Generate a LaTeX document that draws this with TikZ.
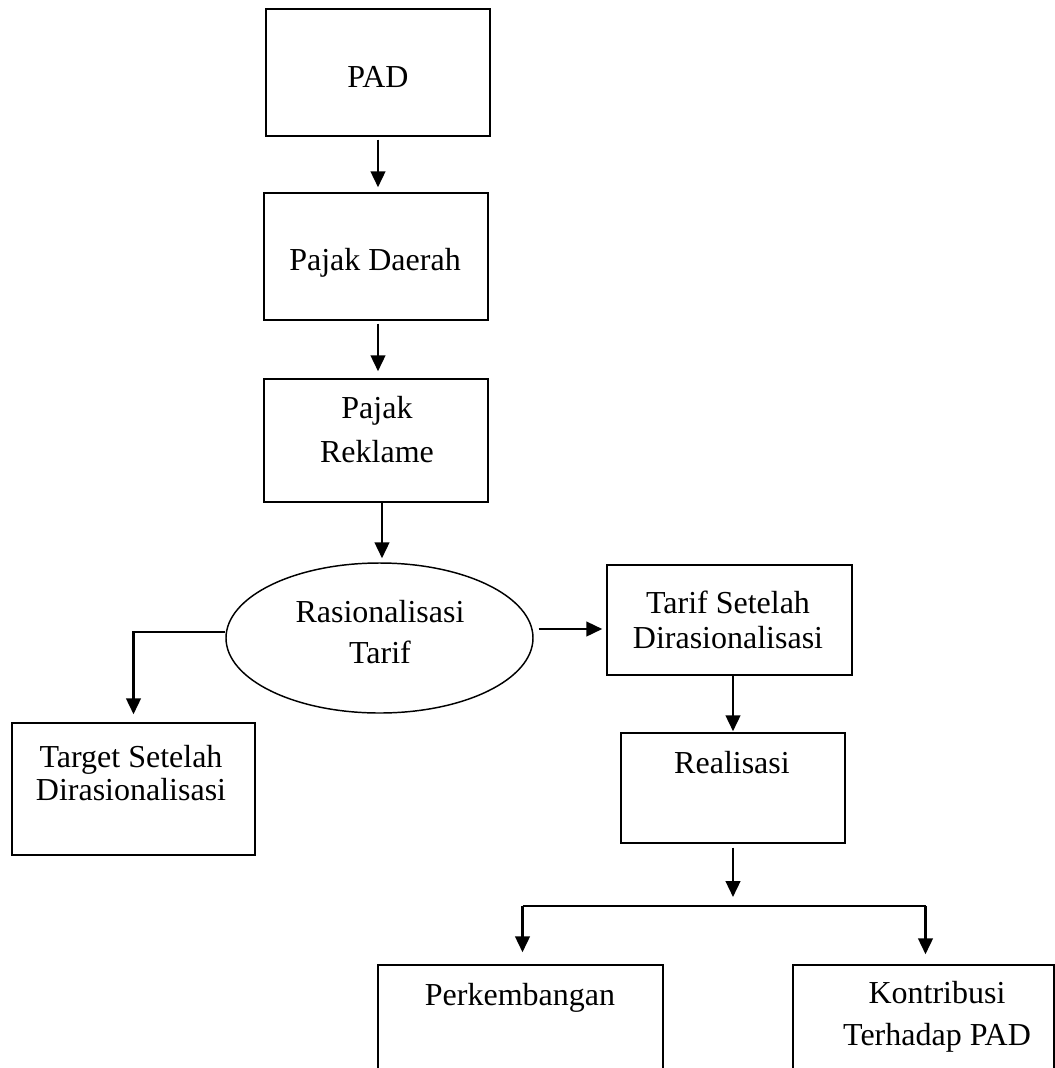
\documentclass[tikz,border=0pt]{standalone}
\usepackage{fontspec}
\setmainfont{Liberation Serif}
\usetikzlibrary{arrows.meta,shapes.geometric}

\tikzset{
  kotak/.style={draw, line width=1.1pt, inner sep=0pt, rectangle},
  oval/.style={draw, line width=1.1pt, inner sep=0pt, ellipse},
  teks/.style={anchor=base, inner sep=0pt, font=\fontsize{24}{28}\selectfont},
  panah/.style={line width=1.8pt, -{Triangle[length=12pt,width=11pt]}},
  garis/.style={line width=1.8pt}
}

\begin{document}
\begin{tikzpicture}[x=0.75pt,y=-0.75pt]

  \useasboundingbox (0,0) rectangle (1055,1068);
  \clip (0,0) rectangle (1055,1068);

  % Boxes
  \node[kotak, minimum width=168pt, minimum height=95.25pt] (pad) at (378,72.5) {};
  \node[kotak, minimum width=168pt, minimum height=95.25pt] (daerah) at (376,256.5) {};
  \node[kotak, minimum width=168pt, minimum height=92.25pt] (reklame) at (376,440.5) {};
  \node[oval, minimum width=230.25pt, minimum height=112.5pt] (rasio) at (379.5,638) {};
  \node[kotak, minimum width=182.25pt, minimum height=99pt] (target) at (133.5,789) {};
  \node[kotak, minimum width=183.75pt, minimum height=82.5pt] (tarif) at (729.5,620) {};
  \node[kotak, minimum width=168pt, minimum height=82.5pt] (realisasi) at (733,788) {};
  \node[kotak, minimum width=213.75pt, minimum height=150pt] (perkemb) at (520.5,1065) {};
  \node[kotak, minimum width=195.75pt, minimum height=150pt] (kontrib) at (923.5,1065) {};

  % Texts
  \node[teks] (padT) at (378,87) {PAD};
  \node[teks] (daerahT) at (375,270) {Pajak Daerah};
  \node[teks] (reklameA) at (377,418) {Pajak};
  \node[teks] (reklameB) at (377,462) {Reklame};
  \node[teks] (rasioA) at (380,622) {Rasionalisasi};
  \node[teks] (rasioB) at (380,663) {Tarif};
  \node[teks] (targetA) at (131,767) {Target Setelah};
  \node[teks] (targetB) at (131,800) {Dirasionalisasi};
  \node[teks] (tarifA) at (728,613) {Tarif Setelah};
  \node[teks] (tarifB) at (728,648) {Dirasionalisasi};
  \node[teks] (realisasiT) at (732,773) {Realisasi};
  \node[teks] (perkembT) at (520,1005) {Perkembangan};
  \node[teks] (kontribA) at (937,1003) {Kontribusi};
  \node[teks] (kontribB) at (937,1045) {Terhadap PAD};

  \coordinate (cabang) at (733,906);

  % Arrows
  \draw[panah, shorten <=2.25pt, shorten >=3.75pt] (pad.south) -- (pad.south |- daerah.north);
  \draw[panah, shorten <=2.25pt, shorten >=5.25pt] (daerah.south -| pad.south) -- (reklame.north -| pad.south);
  \draw[panah, shorten >=3pt] ([xshift=4.5pt]reklame.south) -- ([xshift=4.5pt]reklame.south |- rasio.north);
  \draw[panah, shorten >=6pt] ([yshift=4.5pt]rasio.west) -| (target.north);
  \draw[panah, shorten <=3.75pt, shorten >=3pt] ([yshift=6.75pt]rasio.east) -- ([yshift=6.75pt]rasio.east -| tarif.west);
  \draw[panah, shorten >=0.75pt] (tarif.south -| realisasi.north) -- (realisasi.north);
  \draw[panah, shorten <=3pt, shorten >=6.75pt] (realisasi.south) -- (cabang);
  \draw[garis] ([xshift=1.5pt]cabang -| perkemb.north) -- ([xshift=1.5pt]cabang -| kontrib.north);
  \draw[panah, shorten >=9pt] ([xshift=1.5pt]cabang -| perkemb.north) -- ([xshift=1.5pt]perkemb.north);
  \draw[panah, shorten >=7.5pt] ([xshift=1.5pt]cabang -| kontrib.north) -- ([xshift=1.5pt]kontrib.north);

\end{tikzpicture}
\end{document}
